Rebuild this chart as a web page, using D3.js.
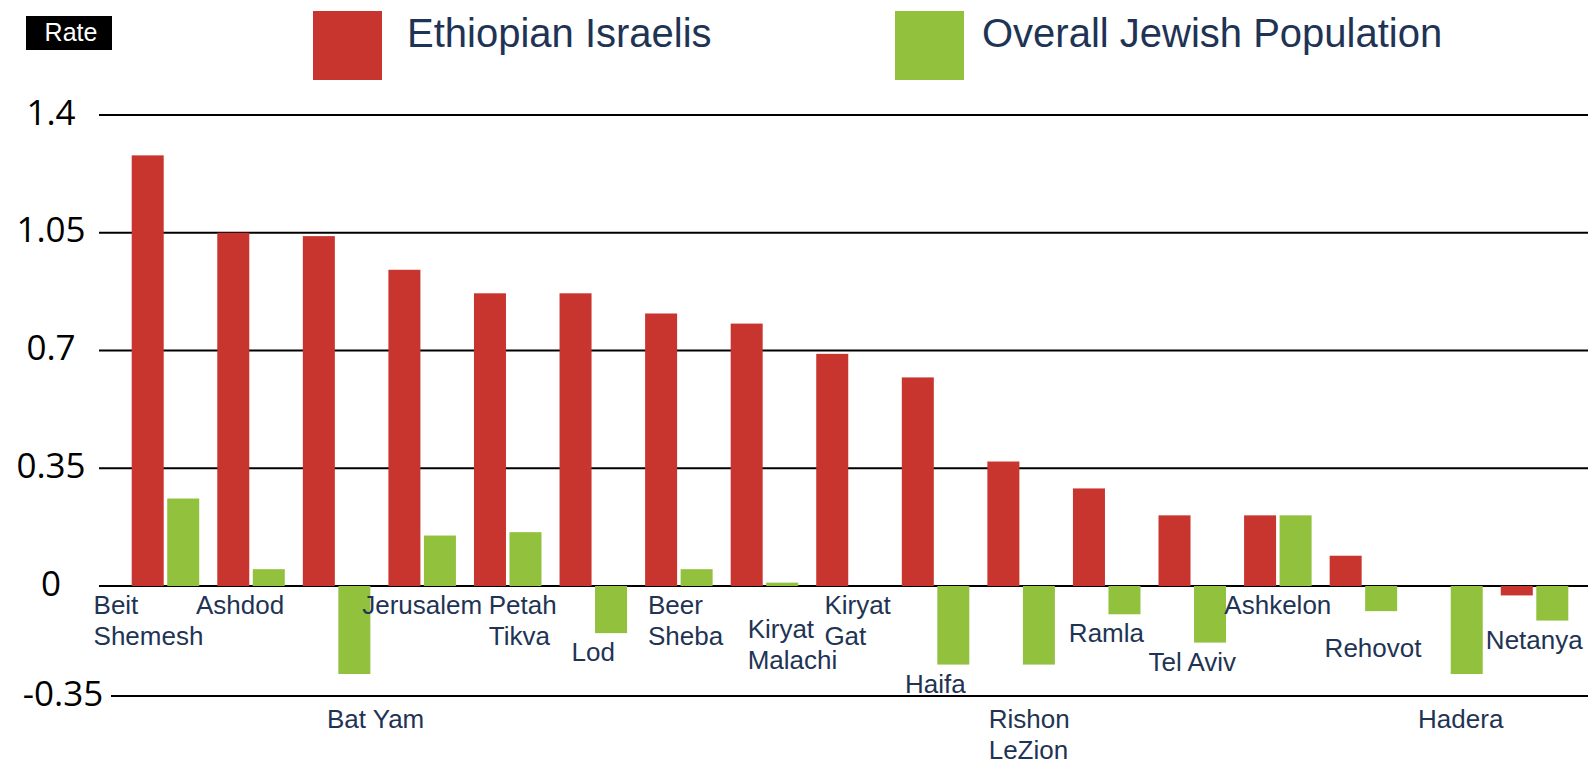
<!DOCTYPE html>
<html>
<head>
<meta charset="utf-8">
<script src="https://cdn.jsdelivr.net/npm/d3@7"></script>
<style>
  html, body { margin: 0; padding: 0; background: #fff; }
  svg { display: block; }
</style>
</head>
<body>
<svg id="chart" width="1588" height="765"></svg>
<script>
// ---- data ----
const cities = [
  "Beit\nShemesh", "Ashdod", "Bat Yam", "Jerusalem", "Petah\nTikva", "Lod",
  "Beer\nSheba", "Kiryat\nMalachi", "Kiryat\nGat", "Haifa", "Rishon\nLeZion",
  "Ramla", "Tel Aviv", "Ashkelon", "Rehovot", "Hadera", "Netanya"
];
const ethiopianIsraelis = [1.28, 1.05, 1.04, 0.94, 0.87, 0.87, 0.81, 0.78, 0.69, 0.62, 0.37, 0.29, 0.21, 0.21, 0.09, 0, -0.03];
const overallJewish     = [0.26, 0.05, -0.28, 0.15, 0.16, -0.15, 0.05, 0.01, 0, -0.25, -0.25, -0.09, -0.18, 0.21, -0.08, -0.28, -0.11];
const seriesNames = ["Ethiopian Israelis", "Overall Jewish Population"];
const yTicks = [1.4, 1.05, 0.7, 0.35, 0, -0.35];
const yTickLabels = ["1.4", "1.05", "0.7", "0.35", "0", "-0.35"];
const axisTitle = "Rate";

// ---- layout ----
const W = 1588;
const colors = ["#c8352f", "#92c13e"];
const navy = "#1f3454";
const labelFont = "'Liberation Sans', Arial, sans-serif";
// horizontal / vertical shifts for labels that would otherwise crowd their neighbours
const labelNudge = {
  "Beit\nShemesh": { dx: -17, dy: 0 },
  "Ashdod": { dx: -11, dy: 0 },
  "Bat Yam": { dx: 39, dy: 0 },
  "Petah\nTikva": { dx: 15, dy: 0 },
  "Beer\nSheba": { dx: 7, dy: 0 },
  "Kiryat\nMalachi": { dx: 28, dy: 24 },
  "Kiryat\nGat": { dx: 8, dy: 0 },
  "Rishon\nLeZion": { dx: 8, dy: 0 },
  "Rehovot": { dx: 10, dy: 18 },
  "Hadera": { dx: 12, dy: 0 }
};

const svg = d3.select("#chart");

const y = d3.scaleLinear().domain([-0.35, 0, 1.4]).range([696, 586, 115]);
const x0 = d3.scaleBand().domain(cities).range([131.7, 1568.3]).paddingInner(0.211).paddingOuter(0);
const x1 = d3.scaleBand().domain(seriesNames).range([0, x0.bandwidth()]).paddingInner(0.0986);

// gridlines
svg.append("g").selectAll("line").data(yTicks).join("line")
  .attr("x1", d => d < 0 ? 111 : 99)
  .attr("x2", W)
  .attr("y1", d => y(d)).attr("y2", d => y(d))
  .attr("stroke", "#000").attr("stroke-width", 2.2);

// tick labels
svg.append("g").selectAll("text").data(yTicks).join("text")
  .attr("x", d => d < 0 ? 63 : 51)
  .attr("y", d => y(d) - 4)
  .attr("text-anchor", "middle")
  .attr("dominant-baseline", "central")
  .attr("font-family", "'Open Sans', 'Noto Sans', sans-serif")
  .attr("font-size", 35)
  .attr("fill", "#000")
  .text((d, i) => yTickLabels[i]);

// bars
const rows = cities.map((c, i) => ({ city: c, values: [ethiopianIsraelis[i], overallJewish[i]] }));
const groups = svg.append("g").selectAll("g").data(rows).join("g")
  .attr("transform", d => `translate(${x0(d.city)},0)`);
groups.selectAll("rect").data(d => d.values.map((v, k) => ({ key: seriesNames[k], v, k }))).join("rect")
  .attr("x", d => x1(d.key))
  .attr("width", x1.bandwidth())
  .attr("y", d => Math.min(y(d.v), y(0)))
  .attr("height", d => Math.abs(y(d.v) - y(0)))
  .attr("fill", d => colors[d.k]);

// category labels, placed just below the lowest part of each group
const lineGap = 31, capH = 19, bottomLine = y(-0.35);
const labels = svg.append("g").selectAll("text").data(rows).join("text")
  .attr("font-family", labelFont)
  .attr("font-size", 26)
  .attr("fill", navy);
labels.each(function (d) {
  const t = d3.select(this);
  const lines = d.city.split("\n");
  lines.forEach((ln, j) => t.append("tspan").attr("x", 0).attr("dy", j === 0 ? 0 : lineGap).text(ln));
  const w = this.getBBox().width;
  const nudge = labelNudge[d.city] || { dx: 0, dy: 0 };
  const low = Math.max(y(0), y(Math.min(0, ...d.values)));
  let base = low + 9 + capH + nudge.dy;
  const last = base + (lines.length - 1) * lineGap;
  if (last > bottomLine - 2) base = bottomLine + 32;
  const cx = x0(d.city) + x0.bandwidth() / 2;
  t.attr("transform", `translate(${cx - w / 2 + nudge.dx},${base})`);
});

// legend
const legend = svg.append("g");
const legendPos = [{ sq: 313, tx: 407 }, { sq: 895, tx: 982 }];
seriesNames.forEach((name, k) => {
  legend.append("rect").attr("x", legendPos[k].sq).attr("y", 11).attr("width", 69).attr("height", 69).attr("fill", colors[k]);
  legend.append("text").attr("x", legendPos[k].tx).attr("y", 47)
    .attr("font-family", labelFont).attr("font-size", 40).attr("fill", navy).text(name);
});

// axis title badge
svg.append("rect").attr("x", 26).attr("y", 16).attr("width", 86).attr("height", 34).attr("fill", "#000");
svg.append("text").attr("x", 71).attr("y", 41).attr("text-anchor", "middle")
  .attr("font-family", labelFont).attr("font-size", 25).attr("fill", "#fff").text(axisTitle);
</script>
</body>
</html>
